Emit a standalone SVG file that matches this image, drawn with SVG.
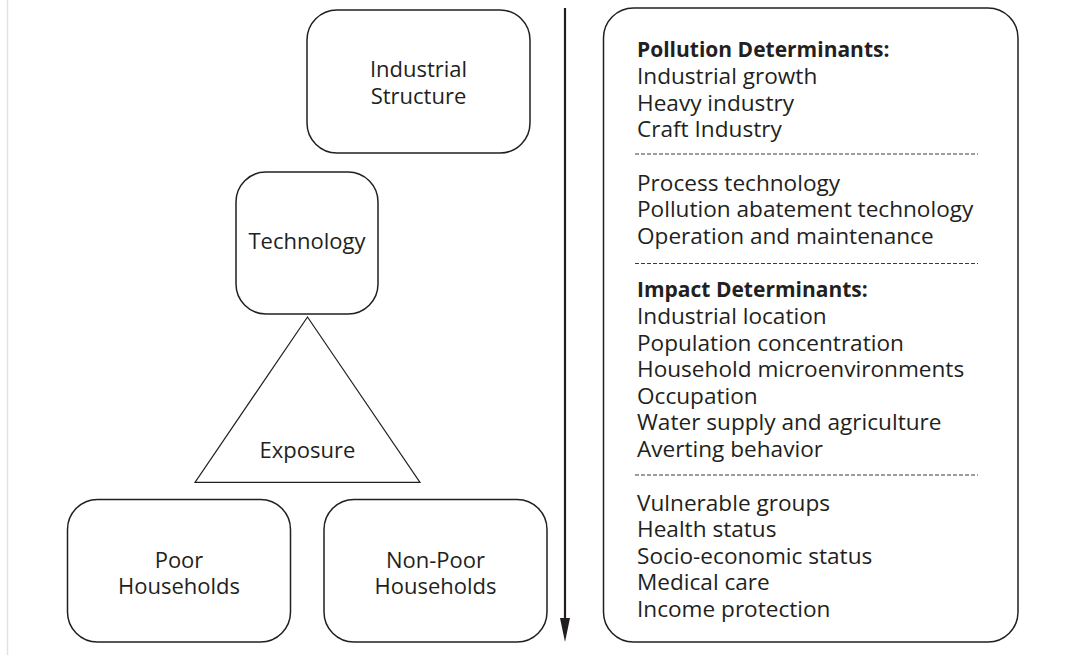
<svg xmlns="http://www.w3.org/2000/svg" width="1073" height="655" viewBox="0 0 1073 655">
<style>
  .box { fill: #ffffff; stroke: #231f20; stroke-width: 1.5; }
  .tri { fill: #ffffff; stroke: #231f20; stroke-width: 1.2; }
  .lbl { font-family: "Open Sans", "Noto Sans", "Liberation Sans", sans-serif; font-size: 22px; fill: #231f20; text-anchor: middle; }
  .lst { font-family: "Open Sans", "Noto Sans", "Liberation Sans", sans-serif; font-size: 22.6px; fill: #231f20; }
  .bold { font-weight: bold; font-size: 21px; }
  .dash { stroke: #3a3a3a; stroke-width: 1; stroke-dasharray: 4 2; fill: none; }
  .conn { stroke: #231f20; stroke-width: 2.2; fill: none; }
</style>
<rect x="0" y="0" width="1073" height="655" fill="#ffffff"/>
<line x1="7.5" y1="0" x2="7.5" y2="655" stroke="#e2e2e2" stroke-width="1.5"/>

<g id="industrial-structure">
  <rect class="box" x="307" y="10" width="223" height="143" rx="30" ry="30"/>
  <text class="lbl" x="418.5" y="77">Industrial</text>
  <text class="lbl" x="418.5" y="103.5">Structure</text>
</g>

<g id="technology">
  <rect class="box" x="236" y="172" width="142" height="142" rx="30" ry="30"/>
  <text class="lbl" x="307" y="249">Technology</text>
</g>

<g id="exposure">
  <polygon class="tri" points="307.5,317 420,482.3 195,482.3"/>
  <text class="lbl" x="307.5" y="458">Exposure</text>
</g>

<g id="poor-households">
  <rect class="box" x="67.5" y="499.5" width="223" height="142.5" rx="30" ry="30"/>
  <text class="lbl" x="179" y="567.5">Poor</text>
  <text class="lbl" x="179" y="593.5">Households</text>
</g>

<g id="non-poor-households">
  <rect class="box" x="324" y="499.5" width="223" height="142.5" rx="30" ry="30"/>
  <text class="lbl" x="435.5" y="567.5">Non-Poor</text>
  <text class="lbl" x="435.5" y="593.5">Households</text>
</g>

<g id="connectors">
  <line class="conn" x1="565" y1="8" x2="565" y2="622"/>
  <path d="M560,618 L570,618 L565,642 Z" fill="#231f20"/>
</g>

<g id="determinants">
  <rect class="box" x="603.5" y="8" width="414.5" height="634" rx="30" ry="30"/>
  <text class="lst bold" x="637" y="57">Pollution Determinants:</text>
  <text class="lst" x="637" y="84">Industrial growth</text>
  <text class="lst" x="637" y="110.5">Heavy industry</text>
  <text class="lst" x="637" y="137">Craft Industry</text>
  <line class="dash" x1="635" y1="154" x2="978" y2="154"/>
  <text class="lst" x="637" y="190.7">Process technology</text>
  <text class="lst" x="637" y="217.3">Pollution abatement technology</text>
  <text class="lst" x="637" y="243.5">Operation and maintenance</text>
  <line class="dash" x1="635" y1="263.5" x2="978" y2="263.5"/>
  <text class="lst bold" x="637" y="297">Impact Determinants:</text>
  <text class="lst" x="637" y="323.5">Industrial location</text>
  <text class="lst" x="637" y="350.5">Population concentration</text>
  <text class="lst" x="637" y="377">Household microenvironments</text>
  <text class="lst" x="637" y="403.5">Occupation</text>
  <text class="lst" x="637" y="430">Water supply and agriculture</text>
  <text class="lst" x="637" y="456.5">Averting behavior</text>
  <line class="dash" x1="635" y1="475" x2="978" y2="475"/>
  <text class="lst" x="637" y="511">Vulnerable groups</text>
  <text class="lst" x="637" y="537">Health status</text>
  <text class="lst" x="637" y="563.5">Socio-economic status</text>
  <text class="lst" x="637" y="590">Medical care</text>
  <text class="lst" x="637" y="616.5">Income protection</text>
</g>
</svg>
